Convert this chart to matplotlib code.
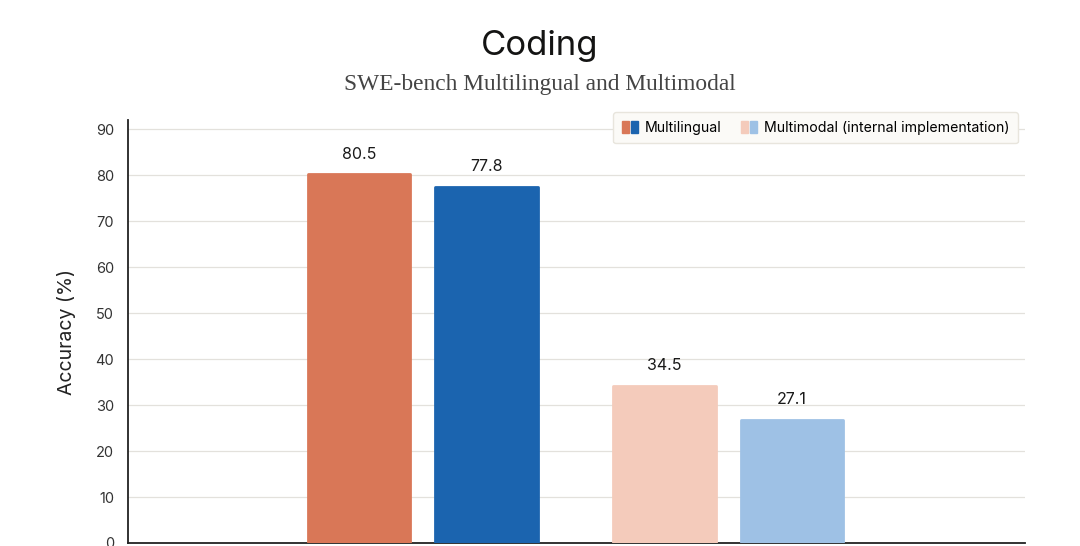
import numpy as np
import matplotlib.pyplot as plt
from matplotlib.patches import Patch
from matplotlib.legend_handler import HandlerTuple

# data
groups = ["Multilingual", "Multimodal (internal implementation)"]
series_a = [80.5, 34.5]
series_b = [77.8, 27.1]
colors_a = ["#D97757", "#F4CBBB"]
colors_b = ["#1B64AF", "#9EC1E5"]
yticks = [0, 10, 20, 30, 40, 50, 60, 70, 80, 90]

fig = plt.figure(figsize=(10.8, 5.46), dpi=100)
ax = fig.add_axes([0.1185, 0.0055, 0.8305, 0.7745])

x = np.arange(len(groups))
off = 0.2087
w = 0.344

for i in range(len(groups)):
    for xpos, val, col in [(x[i] - off, series_a[i], colors_a[i]),
                           (x[i] + off, series_b[i], colors_b[i])]:
        # thin same-colour edge with round joins gives soft corners
        ax.bar(xpos, val - 0.3, w - 0.008, color=col, edgecolor=col, linewidth=2,
               joinstyle="round", zorder=3)
        ax.text(xpos, val + 2.4, f"{val:.1f}", ha="center", va="bottom",
                fontsize=11.5, family="Inter", color="#1a1a1a")

ax.set_xlim(-0.965, 1.971)
ax.set_ylim(0, 92)
ax.set_yticks(yticks)
ax.set_xticks([])
ax.grid(axis="y", color="#e3e1dc", linewidth=0.9, zorder=0)
for s in ["top", "right"]:
    ax.spines[s].set_visible(False)
ax.spines["left"].set_color("#222222")
ax.spines["bottom"].set_color("#222222")
ax.spines["left"].set_linewidth(1.3)
ax.spines["bottom"].set_linewidth(1.3)
ax.tick_params(axis="y", length=0, pad=10, labelsize=10.5, labelcolor="#333333")
for lab in ax.get_yticklabels():
    lab.set_family("Inter")
ax.set_ylabel("Accuracy (%)", fontsize=14, family="Inter", color="#222222", labelpad=14)

handles = [(Patch(color=colors_a[0]), Patch(color=colors_b[0])),
           (Patch(color=colors_a[1]), Patch(color=colors_b[1]))]
leg = ax.legend(handles, groups, handler_map={tuple: HandlerTuple(ndivide=None, pad=0.15)},
                loc="upper right", bbox_to_anchor=(1.0, 1.035), ncol=2, frameon=True,
                fancybox=True, handlelength=1.1, handleheight=0.9, handletextpad=0.5,
                columnspacing=1.4, borderpad=0.6, prop={"family": "Inter", "size": 10.2})
leg.get_frame().set_facecolor("#FBFAF7")
leg.get_frame().set_edgecolor("#E8E5DD")
leg.get_frame().set_alpha(1)

fig.text(0.5, 0.915, "Coding", ha="center", va="center", fontsize=25, family="Inter",
         color="#141413")
fig.text(0.5, 0.845, "SWE-bench Multilingual and Multimodal", ha="center", va="center",
         fontsize=16.8, family="Liberation Serif", color="#444444")

fig.savefig("out.png", dpi=100, facecolor="white")
